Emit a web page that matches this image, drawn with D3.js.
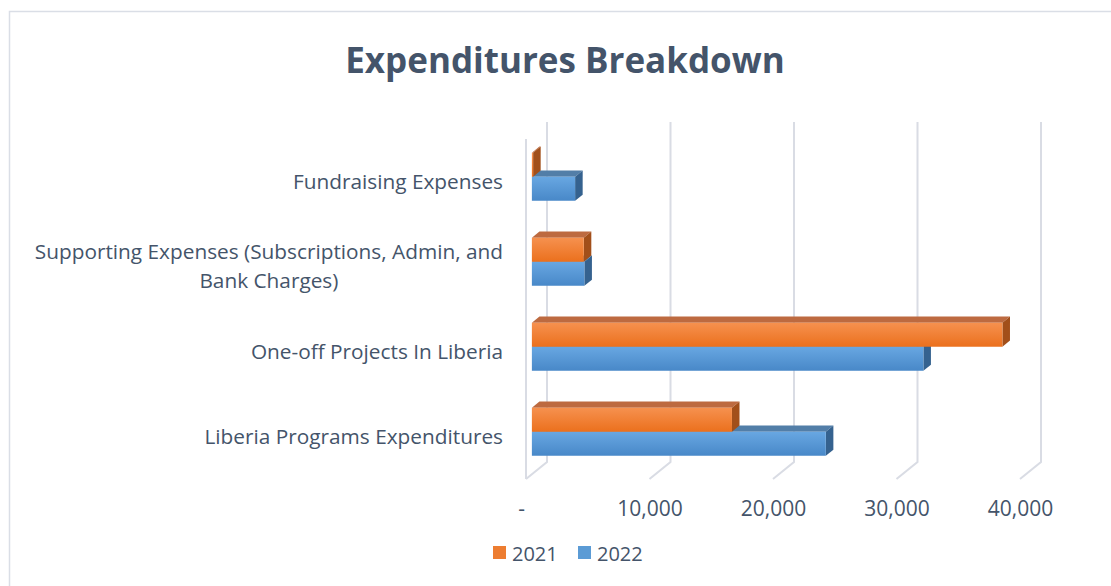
<!DOCTYPE html>
<html>
<head>
<meta charset="utf-8">
<script src="https://cdn.jsdelivr.net/npm/d3@7"></script>
<style>
  body { margin: 0; background: #fff; }
  text { font-family: "Open Sans", Lato, sans-serif; fill: #44546a; }
</style>
</head>
<body>
<div id="chart"></div>
<script>
// Chart data (top to bottom, as shown)
const categories = [
  "Fundraising Expenses",
  "Supporting Expenses (Subscriptions, Admin, and\nBank Charges)",
  "One-off Projects In Liberia",
  "Liberia Programs Expenditures"
];
const years = ["2021", "2022"];
const values2021 = [100, 4200, 38100, 16200];
const values2022 = [3500, 4250, 31700, 23800];
const tickValues = [0, 10000, 20000, 30000, 40000];

const width = 1111, height = 586;

// Colours per series: front gradient top/bottom, top face, side face
const palette = {
  "2021": { light: "#f6914f", dark: "#eb701d", top: "#bd6a40", side: "#a24f1a", legend: "#ed7d31" },
  "2022": { light: "#68a7e2", dark: "#4888c8", top: "#527ea8", side: "#35628f", legend: "#5b9bd5" }
};

const svg = d3.select("#chart")
  .append("svg")
  .attr("width", width)
  .attr("height", height);

// Chart border (runs off the right and bottom edges)
svg.append("rect")
  .attr("x", 9.5).attr("y", 11.5)
  .attr("width", 1120).attr("height", 600)
  .attr("fill", "none")
  .attr("stroke", "#dadee6")
  .attr("stroke-width", 1.5);

// Title
svg.append("text")
  .attr("x", 565).attr("y", 73)
  .attr("text-anchor", "middle")
  .style("font-size", "35px")
  .style("font-weight", "bold")
  .text("Expenditures Breakdown");

// Scales on the back wall; depth vector points from back to front
const x = d3.scaleLinear().domain([0, 40000]).range([547, 1041]);
const y = d3.scaleBand().domain(categories).range([122, 462]);
const ySub = d3.scaleBand().domain(years).range([0, y.bandwidth()]).paddingOuter(0.77);
const depth = { dx: -21, dy: 17 };
const tFront = 0.72, tBack = 0.36;

// Gradients for bar fronts
const defs = svg.append("defs");
years.forEach(yr => {
  const g = defs.append("linearGradient")
    .attr("id", "grad" + yr)
    .attr("x1", 0).attr("y1", 0).attr("x2", 0).attr("y2", 1);
  g.append("stop").attr("offset", "0%").attr("stop-color", palette[yr].light);
  g.append("stop").attr("offset", "100%").attr("stop-color", palette[yr].dark);
});

// Gridlines: back wall verticals plus floor diagonals
const grid = svg.append("g").attr("class", "grid")
  .attr("fill", "none")
  .attr("stroke", "#d9dce4")
  .attr("stroke-width", 2);

tickValues.forEach(t => {
  const bx = x(t);
  grid.append("path")
    .attr("d", `M${bx},${y.range()[0]}V${y.range()[1]}L${bx + depth.dx},${y.range()[1] + depth.dy}`);
});
// Left side wall front edge
grid.append("path")
  .attr("d", `M${x(0) + depth.dx},${y.range()[0] + depth.dy}V${y.range()[1] + depth.dy}`);

// Bars
const series = { "2021": values2021, "2022": values2022 };
const bars = svg.append("g").attr("class", "bars");

categories.forEach((cat, i) => {
  // blue drawn first so the orange front covers its top face
  ["2022", "2021"].forEach(yr => {
    const v = series[yr][i];
    const fx0 = x(0) + depth.dx * tFront;
    const fx1 = x(v) + depth.dx * tFront;
    const fy0 = y(cat) + ySub(yr) + depth.dy * tFront;
    const fy1 = fy0 + ySub.bandwidth();
    const ox = depth.dx * (tBack - tFront);
    const oy = depth.dy * (tBack - tFront);
    const c = palette[yr];

    // top face
    bars.append("path")
      .attr("d", `M${fx0},${fy0}L${fx1},${fy0}L${fx1 + ox},${fy0 + oy}L${fx0 + ox},${fy0 + oy}Z`)
      .attr("fill", c.top);
    // side face
    bars.append("path")
      .attr("d", `M${fx1},${fy0}L${fx1 + ox},${fy0 + oy}L${fx1 + ox},${fy1 + oy}L${fx1},${fy1}Z`)
      .attr("fill", c.side);
    // front face
    bars.append("rect")
      .attr("x", fx0).attr("y", fy0)
      .attr("width", Math.max(0, fx1 - fx0))
      .attr("height", fy1 - fy0)
      .attr("fill", `url(#grad${yr})`);
  });
});

// Category labels (right aligned block, lines centred on each other)
const labels = svg.append("g").attr("class", "cat-labels").style("font-size", "20.8px");
categories.forEach(cat => {
  const lines = cat.split("\n");
  const cy = y(cat) + y.bandwidth() / 2 + depth.dy;
  const lineH = 29;
  const t = labels.append("text").attr("text-anchor", "middle");
  lines.forEach((ln, j) => {
    t.append("tspan")
      .attr("y", cy + (j - (lines.length - 1) / 2) * lineH)
      .attr("dy", "0.35em")
      .text(ln);
  });
  let maxW = 0;
  t.selectAll("tspan").each(function () {
    maxW = Math.max(maxW, this.getComputedTextLength());
  });
  t.selectAll("tspan").attr("x", 503 - maxW / 2);
});

// X axis labels on the front floor edge
const xFront = d3.scaleLinear().domain(x.domain()).range(x.range().map(r => r + depth.dx));
const xAxis = d3.axisBottom(xFront)
  .tickValues(tickValues)
  .tickSize(0)
  .tickFormat(d => d === 0 ? "-" : d3.format(",")(d));

svg.append("g")
  .attr("class", "x-axis")
  .attr("transform", "translate(0,498)")
  .call(xAxis)
  .call(g => g.select(".domain").remove())
  .selectAll("text")
  .style("font-size", "21px")
  .style("font-family", "'Open Sans', Lato, sans-serif")
  .attr("fill", "#44546a")
  .attr("dx", d => d === 0 ? -5 : 0);

// Legend
const legend = svg.append("g").attr("class", "legend");
const legendX = [493, 578];
years.forEach((yr, i) => {
  legend.append("rect")
    .attr("x", legendX[i]).attr("y", 546)
    .attr("width", 13).attr("height", 13)
    .attr("fill", palette[yr].legend);
  legend.append("text")
    .attr("x", legendX[i] + 19).attr("y", 561)
    .style("font-size", "20px")
    .text(yr);
});
</script>
</body>
</html>
